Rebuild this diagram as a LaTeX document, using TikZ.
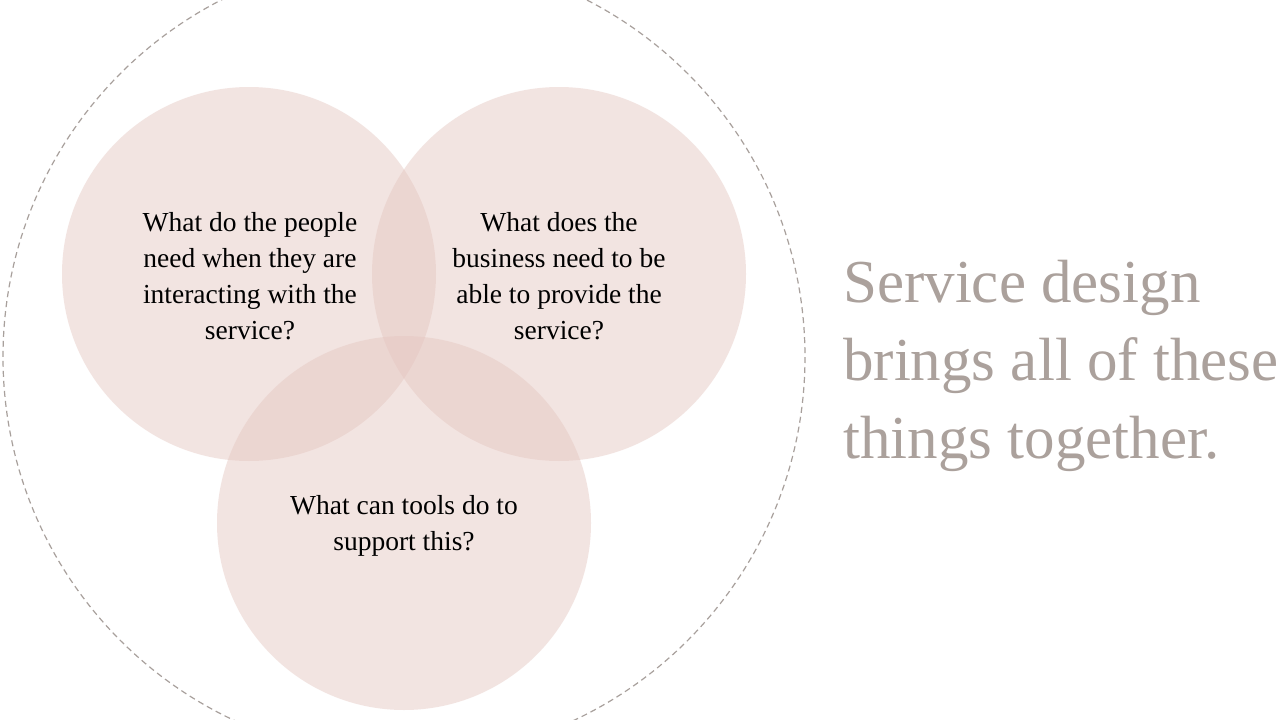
\documentclass[tikz,border=0pt]{standalone}
\usepackage{fontspec}
\setmainfont{Liberation Serif}
\definecolor{petal}{RGB}{229,199,193}
\definecolor{ring}{RGB}{168,160,156}
\definecolor{headline}{RGB}{171,161,156}
\tikzset{
  petalcircle/.style={circle, fill=petal, fill opacity=0.47, draw=none, minimum size=374pt, inner sep=0pt},
  question/.style={align=center, text=black, font=\fontsize{27.5}{36}\selectfont, inner sep=0pt},
  slogan/.style={align=left, anchor=west, text=headline, font=\fontsize{61}{78}\selectfont, inner sep=0pt},
}
\begin{document}
\begin{tikzpicture}[x=1pt,y=-1pt]
\useasboundingbox (0,0) rectangle (1280,720);
\clip (0,0) rectangle (1280,720);
\fill[white] (0,0) rectangle (1280,720);
\draw[ring, line width=1.2pt, dash pattern=on 6pt off 4pt] (404,357) circle[radius=401];
\node[petalcircle] (people) at (249,274) {};
\node[petalcircle] (business) at (559,274) {};
\node[petalcircle] (tools) at (404,523) {};
\node[question] (qpeople) at (250,276) {What do the people\\need when they are\\interacting with the\\service?};
\node[question] (qbusiness) at (559,276) {What does the\\business need to be\\able to provide the\\service?};
\node[question] (qtools) at (404,526) {What can tools do to\\support this?};
\node[slogan] (title) at (843,366) {Service design\\brings all of these\\things together.};
\end{tikzpicture}
\end{document}
